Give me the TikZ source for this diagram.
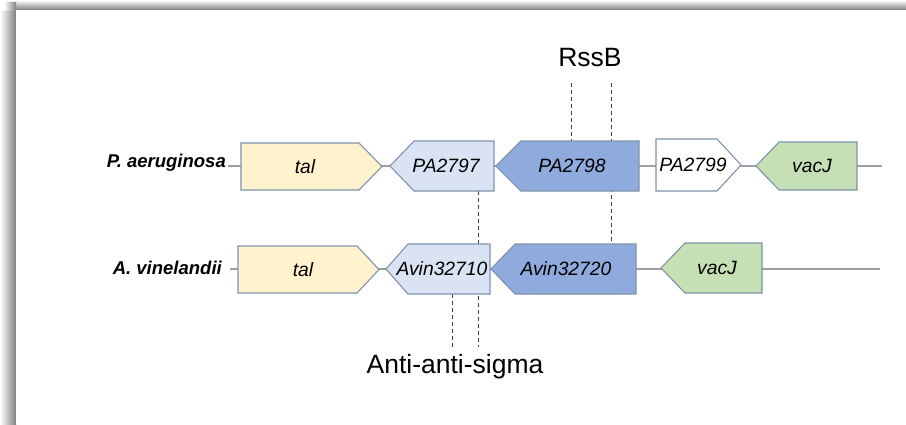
\documentclass[tikz,border=0pt]{standalone}
\usepackage{fontspec}
\setmainfont{Liberation Sans}
\definecolor{genebd}{HTML}{7F93AE}
\definecolor{talfill}{HTML}{FFF2CC}
\definecolor{ltblue}{HTML}{DAE3F3}
\definecolor{mdblue}{HTML}{8FAADC}
\definecolor{grfill}{HTML}{C5E0B4}
\begin{document}
\begin{tikzpicture}[x=1pt,y=-1pt,
  gene/.style={draw=genebd, line width=1.1pt, line join=miter},
  genetext/.style={font=\fontsize{19.3}{21}\selectfont\itshape, inner sep=0pt},
  orgtext/.style={font=\fontsize{18.5}{21}\selectfont\bfseries\itshape, inner sep=0pt, anchor=east},
  bigtext/.style={font=\fontsize{26.5}{29}\selectfont, inner sep=0pt},
  dashln/.style={draw=black!75, dash pattern=on 4pt off 3pt, line width=0.9pt},
  backbone/.style={draw=gray!75, line width=1.2pt}]
\useasboundingbox (0,0) rectangle (906,424);
% shadow frame
\shade[top color=white, bottom color=black!50] (6,0) rectangle (906,10);
\shade[left color=white, right color=black!50] (0,10) rectangle (16,424);
\shade[left color=white, right color=black!50] (4,2) rectangle (16,10);
\fill[white] (16,10) rectangle (906,424);
% backbones
\coordinate (r1s) at (228,166);
\coordinate (r1e) at (882,166);
\coordinate (r2s) at (230,269);
\coordinate (r2e) at (880,269);
\draw[backbone] (r1s) -- (r1e);
\draw[backbone] (r2s) -- (r2e);
% dashed guide lines
\coordinate (d1t) at (571,83);
\coordinate (d1b) at (571,141);
\coordinate (d2t) at (611,83);
\coordinate (d2b) at (611,244);
\coordinate (d3t) at (478,191);
\coordinate (d3b) at (478,347);
\coordinate (d4t) at (452,294);
\coordinate (d4b) at (452,347);
\draw[dashln] (d1t) -- (d1b);
\draw[dashln] (d2t) -- (d2b);
\draw[dashln] (d3t) -- (d3b);
\draw[dashln] (d4t) -- (d4b);
% row 1 genes
\draw[gene, fill=talfill] (241,143) -- (359,143) -- (382,166.5) -- (359,190) -- (241,190) -- cycle;
\node[genetext] (tal1) at (305,167) {tal};
\draw[gene, fill=ltblue] (390,166) -- (414,141) -- (494,141) -- (494,191) -- (414,191) -- cycle;
\node[genetext] (pa2797) at (446,166) {PA2797};
\draw[gene, fill=mdblue] (496,166) -- (521,141) -- (639,141) -- (639,191) -- (521,191) -- cycle;
\node[genetext] (pa2798) at (572,166) {PA2798};
\draw[gene, fill=white] (656,139) -- (717,139) -- (741,165) -- (717,191) -- (656,191) -- cycle;
\node[genetext] (pa2799) at (693,165) {PA2799};
\draw[gene, fill=grfill] (756,166) -- (779,142) -- (857,142) -- (857,190) -- (779,190) -- cycle;
\node[genetext] (vacj1) at (812,166) {vacJ};
% row 2 genes
\draw[gene, fill=talfill] (238,246) -- (357,246) -- (379,269.5) -- (357,293) -- (238,293) -- cycle;
\node[genetext] (tal2) at (303,270) {tal};
\draw[gene, fill=ltblue] (386,269) -- (408,244) -- (490,244) -- (490,294) -- (408,294) -- cycle;
\node[genetext] (avin10) at (442,269) {Avin32710};
\draw[gene, fill=mdblue] (491,269) -- (515,244) -- (636,244) -- (636,294) -- (515,294) -- cycle;
\node[genetext] (avin20) at (566,269) {Avin32720};
\draw[gene, fill=grfill] (661,268) -- (685,243) -- (762,243) -- (762,293) -- (685,293) -- cycle;
\node[genetext] (vacj2) at (717,268) {vacJ};
% organism labels
\node[orgtext] (paer) at (226,163) {P. aeruginosa};
\node[orgtext] (avin) at (222,268) {A. vinelandii};
% annotations
\node[bigtext] (rssb) at (590,58) {RssB};
\node[bigtext] (anti) at (455,367) {Anti-anti-sigma};
\end{tikzpicture}
\end{document}
